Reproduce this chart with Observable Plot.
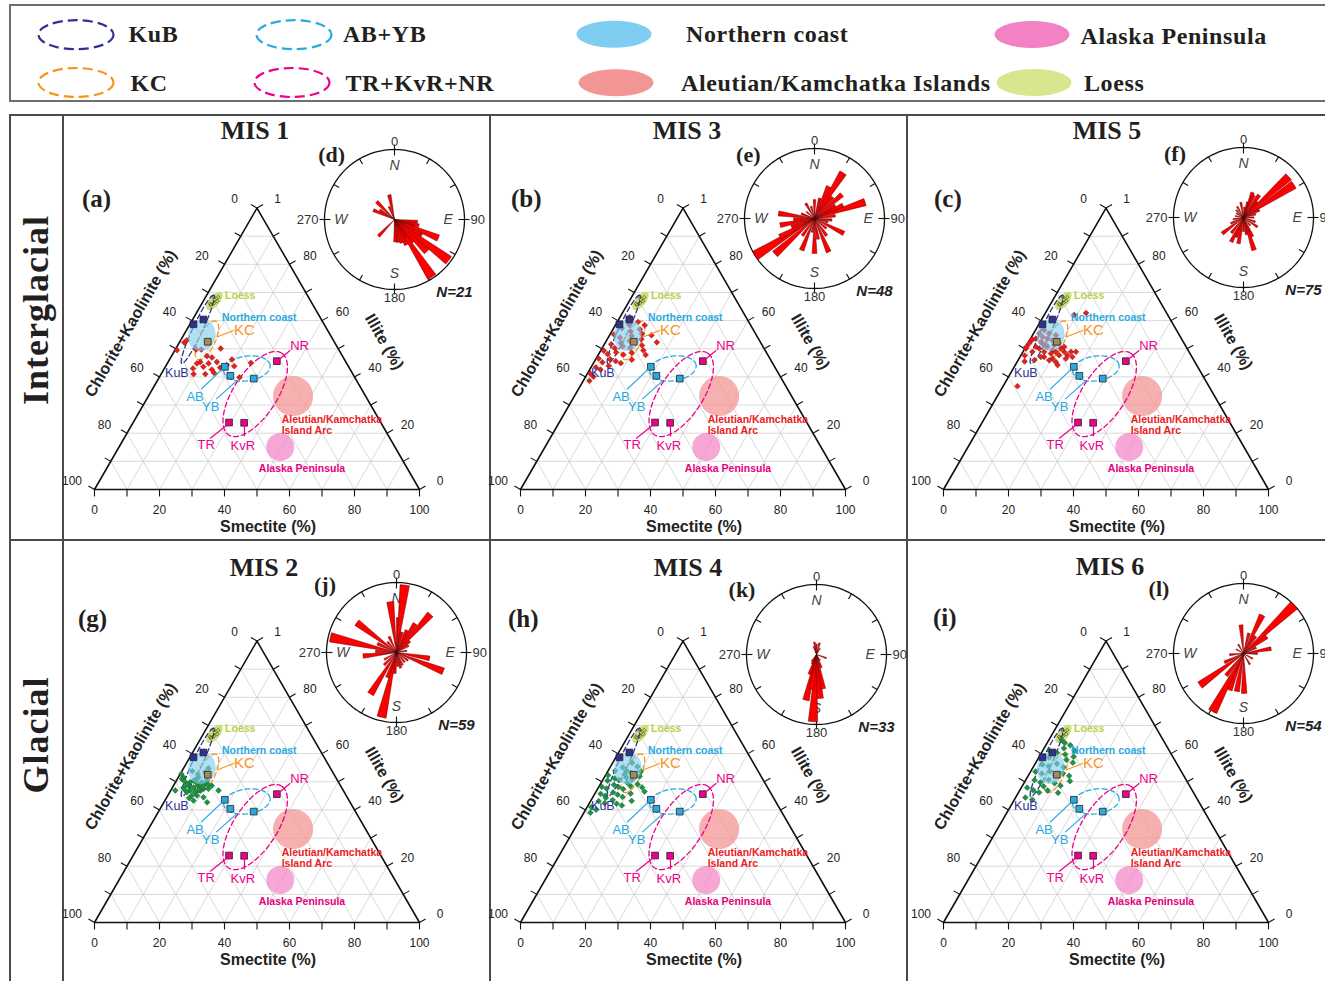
<!DOCTYPE html>
<html>
<head>
<meta charset="utf-8">
<title>Clay mineral ternary diagrams and rose diagrams, MIS 1–6</title>
<script src="https://cdn.jsdelivr.net/npm/d3@7"></script>
<script src="https://cdn.jsdelivr.net/npm/@observablehq/plot@0.6"></script>
<style>
  html, body { margin: 0; padding: 0; background: #fff; }
  body { position: relative; width: 1325px; height: 981px; overflow: hidden; font-family: "Liberation Sans", Arial, sans-serif; }
  .abs { position: absolute; }
  .rule { position: absolute; background: #4a4a4a; }
  .serif { font-family: "Liberation Serif", "Times New Roman", serif; font-weight: bold; color: #231f20; white-space: nowrap; }
  .title { font-size: 26px; line-height: 30px; width: 200px; text-align: center; }
  .letter { font-size: 25px; line-height: 26px; }
  .rlet { font-size: 22px; line-height: 24px; transform: translate(-50%, -50%); }
  .rowlab { font-size: 36px; letter-spacing: 1px; transform: translate(-50%, -50%) rotate(-90deg); }
</style>
</head>
<body>
<script>
// ---------------- data ----------------
// Clay assemblages of the core samples: [smectite %, illite %];
// chlorite + kaolinite makes up the rest of each 100 %.
const mis1 = [[0.6,49.5],[1.5,52.2],[1.9,53.0],[6.4,49.7],[8.0,49.7],[13.8,50.1],[10.9,47.4],[12.7,46.9],
  [9.9,45.3],[9.1,44.8],[8.8,43.0],[11.7,43.6],[12.7,44.8],[15.0,45.3],[14.8,42.6],[13.6,41.0],[16.1,41.4],
  [10.0,41.0],[17.0,43.3],[18.6,44.2],[19.2,46.2],[21.1,43.8],[24.7,39.8],[25.6,45.0]];
const mis3 = [[1.2,55.1],[2.5,57.3],[4.1,58.6],[5.8,56.2],[3.6,54.0],[6.9,54.6],[8.3,56.9],[9.7,55.3],
  [4.8,52.1],[7.2,52.8],[10.5,53.4],[2.1,51.6],[3.9,50.2],[6.0,50.9],[8.6,50.3],[11.8,51.2],[1.0,49.3],
  [2.8,48.1],[5.1,48.7],[7.7,47.9],[9.9,48.6],[13.1,49.4],[0.8,46.5],[2.6,45.2],[4.4,46.3],[6.5,45.6],
  [8.4,44.9],[1.5,43.4],[3.3,42.6],[5.2,43.9],[0.9,41.2],[2.4,40.1],[11.2,46.1],[14.6,47.8],[12.9,54.8],
  [6.4,59.5],[3.0,61.2],[9.0,58.4],[15.8,52.3],[1.9,38.6]];
const mis5 = [[0.5,53.0],[0.3,50.1],[4.4,36.7],[12.5,62.7],[9.2,62.0],[16.3,48.9],[16.1,47.1],[11.9,45.3],
  [6.5,48.9],[8.8,49.5],[12.7,48.9],[4.5,51.9],[0.4,51.9],[0.7,53.3],[0.2,50.7],[1.6,53.6],[3.8,52.4],
  [4.4,50.1],[6.6,50.7],[10.1,48.9],[11.7,47.7],[11.1,50.1],[14.3,47.7],[14.8,48.9],[10.3,46.5],[9.6,45.9],
  [7.4,47.1],[8.4,51.3],[9.6,51.9],[3.1,50.7],[2.9,48.9],[6.4,47.1],[14.4,46.5],[13.0,44.2],[3.4,54.2],
  [5.2,53.6],[7.0,53.0],[1.8,55.4],[2.7,56.6],[4.8,55.4],[7.2,54.8],[5.9,51.3],[8.9,48.3],[11.8,50.7],
  [1.2,47.6],[5.0,46.0],[2.2,45.5]];
const mis2 = [[7.7,54.8],[7.4,53.4],[1.6,51.6],[4.5,49.8],[5.3,50.4],[6.0,51.0],[8.1,49.8],[9.5,49.2],
  [9.4,50.4],[7.7,48.6],[6.5,48.0],[4.6,48.6],[6.0,46.9],[7.8,46.3],[9.1,46.9],[9.8,47.5],[1.4,46.9],
  [1.4,51.0],[3.8,49.2],[9.0,45.1],[7.4,45.1],[11.3,44.5],[13.3,42.7],[14.7,46.9],[11.8,48.6],[0.3,52.8],
  [5.3,46.3],[3.4,48.0],[6.2,51.6],[9.05,48.0],[11.3,47.5],[8.8,43.3],[5.5,52.6],[3.2,53.8],[6.8,49.5],
  [8.4,47.2],[10.4,49.0],[4.0,47.3],[2.6,50.2],[7.0,44.2]];
const mis4 = [[0.8,52.3],[2.2,53.9],[3.9,55.1],[5.6,54.0],[7.3,53.2],[1.6,50.4],[3.4,51.2],[5.0,50.6],
  [6.8,51.5],[8.9,50.8],[10.7,51.9],[0.9,48.2],[2.7,47.6],[4.3,48.9],[6.1,48.1],[7.9,47.4],[9.6,48.5],
  [11.5,49.1],[13.4,48.0],[1.8,45.7],[3.6,45.0],[5.4,46.2],[7.2,45.4],[9.1,44.6],[11.0,45.8],[2.5,43.1],
  [4.7,42.4],[6.6,43.5],[8.5,42.2],[1.3,41.0],[3.2,40.1],[14.9,46.5],[12.6,43.2],[6.0,56.7],[8.3,55.4],
  [10.2,53.7],[4.1,44.3],[8.0,49.7],[5.8,52.6],[2.0,39.0],[10.4,41.6]];
const mis6 = [[3.2,58.6],[4.8,60.3],[6.1,61.9],[5.4,63.8],[7.6,59.7],[8.9,57.8],[2.4,56.1],[4.6,55.5],
  [6.7,56.4],[9.3,55.2],[11.4,56.8],[1.5,53.6],[3.8,52.9],[5.9,53.7],[8.1,52.4],[10.2,53.0],[12.6,52.1],
  [2.7,50.6],[4.9,49.8],[7.0,50.7],[9.4,49.5],[11.7,48.6],[1.8,47.9],[4.1,47.0],[6.3,46.2],[8.6,46.9],
  [3.0,44.4],[5.5,43.6],[13.8,50.2],[10.6,58.9],[7.5,63.0],[4.0,64.8],[9.8,61.1],[2.1,61.0],[6.6,48.4],
  [12.2,46.1]];

// Source-area fields: centre [smectite %, illite %], semi-axes (% of side) and tilt (degrees)
const sourceFields = [
  {key: "Loess",          s: 3.4,  i: 67.0, a: 3.4,  b: 1.6,  tilt: 50},
  {key: "Northern coast", s: 5.6,  i: 54.8, a: 4.9,  b: 4.2,  tilt: 75},
  {key: "KC",             s: 8.1,  i: 53.0, a: 6.5,  b: 2.5,  tilt: 64},
  {key: "KuB",            s: 3.3,  i: 56.9, a: 11.6, b: 1.5,  tilt: 65},
  {key: "AB+YB",          s: 25.4, i: 43.0, a: 7.2,  b: 3.8,  tilt: 8},
  {key: "TR+KvR+NR",      s: 32.5, i: 33.9, a: 15.0, b: 6.7,  tilt: 57},
  {key: "Aleutian",       s: 44.5, i: 33.2, a: 6.15, b: 6.15, tilt: 0},
  {key: "Alaska",         s: 49.6, i: 15.1, a: 4.3,  b: 4.3,  tilt: 0}
];
// River reference samples: [smectite %, illite %]
const kubSamples = [[1.1, 58.7], [3.3, 60.4]];
const kcSamples = [[8.6, 52.5]];
const abybSamples = [[18.3, 43.6], [21.6, 40.4], [29.3, 39.4]];
const trkvrnrSamples = [[33.3, 45.6], [29.5, 23.8], [34.2, 23.7]];
const loessSamples = [[2.6, 66.0], [3.3, 67.4], [3.9, 68.3], [4.3, 66.9], [3.0, 65.6], [2.5, 68.4], [3.6, 66.2]];

// Rose diagrams: petal azimuth (degrees from north) and length (share of the outer ring)
const roseMis1 = [[96,0.33],[104,0.36],[110,0.3],[113,0.68],[121,0.45],[127,0.97],[135,0.65],[142,0.42],
  [147,0.98],[150,0.3],[155,0.40],[163,0.35],[171,0.33],[178,0.32],[224,0.33],[294,0.33],[303,0.25],
  [315,0.36],[337,0.2],[348,0.36]];
const roseMis3 = [[0,0.27],[15,0.3],[24,0.5],[32,0.77],[40,0.4],[49,0.52],[58,0.35],[65,0.45],[72,0.76],
  [82,0.3],[95,0.25],[105,0.2],[117,0.47],[130,0.22],[145,0.3],[157,0.52],[170,0.3],[180,0.5],[190,0.2],
  [202,0.49],[215,0.3],[228,0.76],[238,1.0],[242,0.56],[250,0.35],[259,0.5],[268,0.3],[278,0.52],[290,0.2],
  [310,0.15],[330,0.25],[345,0.18]];
const roseMis5 = [[5,0.15],[15,0.23],[20,0.38],[25,0.35],[35,0.39],[42,0.3],[48,0.87],[57,0.86],[65,0.25],
  [75,0.18],[90,0.15],[110,0.18],[124,0.24],[140,0.15],[155,0.3],[162,0.49],[170,0.25],[180,0.2],[191,0.38],
  [200,0.3],[207,0.39],[218,0.28],[233,0.38],[245,0.2],[260,0.15],[280,0.12],[300,0.12],[315,0.15],
  [330,0.18],[350,0.22]];
const roseMis2 = [[4,0.5],[7,0.97],[15,0.3],[25,0.35],[33,0.49],[41.6,0.73],[50,0.25],[60,0.2],[80,0.15],
  [100,0.48],[112,0.72],[125,0.2],[140,0.18],[155,0.2],[165,0.23],[175,0.2],[185,0.3],[193,0.95],[200,0.38],
  [212,0.7],[225,0.25],[240,0.2],[264,0.48],[273,0.3],[283,0.97],[295,0.3],[307,0.71],[320,0.2],[335,0.25],
  [353,0.73]];
const roseMis4 = [[183,0.96],[175,0.63],[169,0.5],[193,0.67],[188,0.5],[200,0.3],[160,0.2],[350,0.18],
  [15,0.17],[110,0.15],[0,0.15],[340,0.12],[30,0.1],[206,0.15],[215,0.12],[150,0.1]];
const roseMis6 = [[46.4,1.0],[26,0.61],[54.5,0.41],[80,0.4],[355,0.41],[15,0.3],[35,0.3],[65,0.2],[90,0.2],
  [120,0.15],[150,0.18],[179,0.57],[190,0.55],[201,0.56],[208,0.94],[218,0.4],[234,0.77],[245,0.3],
  [265,0.2],[300,0.12],[330,0.15]];

// Tick labels
const tickValues = [0, 20, 40, 60, 80, 100];
const smectiteTickLabels = ["0", "20", "40", "60", "80", "100"];
const chloriteTickLabels = ["0", "20", "40", "60", "80", "100"];
const illiteTickLabels = ["0", "20", "40", "60", "80", "1"];
const compassDegrees = ["0", "90", "180", "270"];
const compassLetters = ["N", "E", "S", "W"];

// ---------------- styling ----------------
const PAL = {
  kub: "#2e3192", kc: "#f7941d", ab: "#27aae1", tr: "#ec008c",
  north: "#7fcdf1", aleutian: "#f29594", alaska: "#f282c4", loess: "#d8e68e",
  red: "#e2231a", redEdge: "#931010", green: "#1f9345", greenEdge: "#0b5a26"
};
const SANS = "Liberation Sans, Arial, sans-serif";
const SIDE = 325;                 // triangle side, px
const H3 = Math.sqrt(3) / 2;
const cart = (s, i) => [s / 100 + i / 200, (i / 100) * H3];   // ternary -> plane (side = 1)
const px = v => v / SIDE;          // pixel length -> plane units

function ring(f, n = 90) {
  const [cx, cy] = cart(f.s, f.i);
  const t = f.tilt * Math.PI / 180, a = f.a / 100, b = f.b / 100;
  return d3.range(n + 1).map(k => {
    const p = 2 * Math.PI * k / n, u = a * Math.cos(p), v = b * Math.sin(p);
    return {x: cx + u * Math.cos(t) - v * Math.sin(t), y: cy + u * Math.sin(t) + v * Math.cos(t)};
  });
}
const field = Object.fromEntries(sourceFields.map(f => [f.key, ring(f)]));

// Annotations of the source areas (anchored in ternary coordinates)
const sourceLabels = [
  {text: "Loess", s: 10.4, i: 68.9, color: "#b7d140", size: 10.5, weight: "bold"},
  {text: "Northern coast", s: 20.2, i: 61.0, color: PAL.ab, size: 10.5, weight: "bold"},
  {text: "KC", s: 17.8, i: 56.6, color: PAL.kc, size: 15, weight: "normal"},
  {text: "KuB", s: 4.65, i: 41.4, color: PAL.kub, size: 12.5, weight: "normal"},
  {text: "AB", s: 14.4, i: 33.1, color: PAL.ab, size: 13, weight: "normal"},
  {text: "YB", s: 21.1, i: 29.3, color: PAL.ab, size: 13, weight: "normal"},
  {text: "NR", s: 37.6, i: 51.0, color: PAL.tr, size: 13, weight: "normal"},
  {text: "TR", s: 26.5, i: 15.7, color: PAL.tr, size: 13, weight: "normal"},
  {text: "KvR", s: 37.9, i: 15.5, color: PAL.tr, size: 13, weight: "normal"},
  {text: "Alaska Peninsula", s: 60.2, i: 7.3, color: "#e5007d", size: 10.5, weight: "bold"}
];
const leaders = [
  {from: [10.6, 54.2], to: [14.7, 56.6], color: PAL.kc},
  {from: [15.0, 35.6], to: [17.9, 42.7], color: PAL.ab},
  {from: [21.4, 32.1], to: [24.4, 38.5], color: PAL.ab},
  {from: [33.6, 45.9], to: [35.5, 49.5], color: PAL.tr},
  {from: [26.5, 18.1], to: [29.3, 22.8], color: PAL.tr},
  {from: [36.7, 18.9], to: [34.9, 22.5], color: PAL.tr}
];

const X = d => cart(d[0], d[1])[0];
const Y = d => cart(d[0], d[1])[1];

function ternary(samples, fill, edge) {
  const W = 400, H = 362, ox = 34, oy = 312;   // lower-left corner of the triangle inside the svg
  const grid = [];
  for (let v = 10; v < 100; v += 10) {
    grid.push([cart(v, 0), cart(v, 100 - v)]);
    grid.push([cart(0, v), cart(100 - v, v)]);
    grid.push([cart(100 - v, 0), cart(0, 100 - v)]);
  }
  const T = px(7), ticks = [];
  for (let v = 0; v <= 100; v += 10) {
    const [bx, by] = cart(v, 0); ticks.push([bx, by, bx, by - T]);
    const [lx, ly] = cart(0, 100 - v); ticks.push([lx, ly, lx - H3 * T, ly + T / 2]);
    const [rx, ry] = cart(100 - v, v); ticks.push([rx, ry, rx + H3 * T, ry + T / 2]);
  }
  const frame = [cart(0, 0), cart(100, 0), cart(0, 100), cart(0, 0)].map(([x, y]) => ({x, y}));
  const shape = (key, o) => Plot.line(field[key], {x: "x", y: "y", ...o});
  const squares = (data, color) => Plot.dot(data, {x: X, y: Y, symbol: "square", r: 3.8, fill: color, stroke: "#222", strokeWidth: 0.8});
  const axisText = {fontFamily: SANS, fontSize: 12, fill: "#222"};

  const plot = Plot.plot({
    width: W, height: H, margin: 0,
    x: {domain: [px(-ox), px(W - ox)], range: [0, W], axis: null},
    y: {domain: [px(oy - H), px(oy)], range: [H, 0], axis: null},
    style: {background: "none", overflow: "visible", fontFamily: SANS},
    marks: [
      Plot.link(grid, {x1: d => d[0][0], y1: d => d[0][1], x2: d => d[1][0], y2: d => d[1][1], stroke: "#cfcfcf", strokeWidth: 0.8}),
      Plot.link(ticks, {x1: d => d[0], y1: d => d[1], x2: d => d[2], y2: d => d[3], stroke: "#111", strokeWidth: 1.1}),
      Plot.line(frame, {x: "x", y: "y", stroke: "#111", strokeWidth: 1.6}),
      Plot.text(tickValues, {x: v => cart(v, 0)[0], y: v => cart(v, 0)[1], text: (v, k) => smectiteTickLabels[k], dy: 20.7, ...axisText}),
      Plot.text(tickValues, {x: v => cart(0, 100 - v)[0], y: v => cart(0, 100 - v)[1], text: (v, k) => chloriteTickLabels[k], dx: -22.5, dy: -8.4, ...axisText}),
      Plot.text(tickValues, {x: v => cart(100 - v, v)[0], y: v => cart(100 - v, v)[1], text: (v, k) => illiteTickLabels[k], dx: 20.5, dy: -8.5, ...axisText}),
      Plot.text(["Smectite (%)"], {x: cart(50, 0)[0], y: cart(50, 0)[1], dx: 11, dy: 37.4, fontSize: 16, fontWeight: "bold", fill: "#222"}),
      Plot.text(["Chlorite+Kaolinite (%)"], {x: cart(0, 50)[0], y: cart(0, 50)[1], dx: -44.9, dy: -25.3, rotate: -60, fontSize: 16, fontWeight: "bold", fill: "#222"}),
      Plot.text(["Illite (%)"], {x: cart(50, 50)[0], y: cart(50, 50)[1], dx: 46, dy: -6.9, rotate: 60, fontSize: 16, fontWeight: "bold", fill: "#222"}),
      // filled source areas
      shape("Aleutian", {fill: PAL.aleutian, fillOpacity: 0.75, stroke: "none"}),
      shape("Alaska", {fill: PAL.alaska, fillOpacity: 0.7, stroke: "none"}),
      shape("Loess", {fill: "#c3da5c", fillOpacity: 0.85, stroke: "none"}),
      Plot.dot(loessSamples, {x: X, y: Y, symbol: "diamond2", r: 1.7, fill: "none", stroke: "#3f4d0c", strokeWidth: 0.7}),
      // river provinces
      shape("KuB", {stroke: PAL.kub, strokeWidth: 1.3, strokeDasharray: "5,3", fill: "none"}),
      shape("KC", {stroke: PAL.kc, strokeWidth: 1.3, strokeDasharray: "5,3", fill: "none"}),
      shape("AB+YB", {stroke: PAL.ab, strokeWidth: 1.3, strokeDasharray: "5,3", fill: "none"}),
      shape("TR+KvR+NR", {stroke: PAL.tr, strokeWidth: 1.3, strokeDasharray: "5,3", fill: "none"}),
      // core samples
      Plot.dot(samples, {x: X, y: Y, symbol: "diamond2", r: 2.6, fill, stroke: edge, strokeWidth: 0.5}),
      shape("Northern coast", {fill: PAL.north, fillOpacity: 0.62, stroke: "none"}),
      squares(kubSamples, PAL.kub),
      squares(kcSamples, "#a58a58"),
      squares(abybSamples, PAL.ab),
      squares(trkvrnrSamples, PAL.tr),
      ...leaders.map(l => Plot.link([l], {x1: d => cart(...d.from)[0], y1: d => cart(...d.from)[1], x2: d => cart(...d.to)[0], y2: d => cart(...d.to)[1], stroke: l.color, strokeWidth: 1.2})),
      ...sourceLabels.map(l => Plot.text([l], {x: d => cart(d.s, d.i)[0], y: d => cart(d.s, d.i)[1], text: "text", fill: l.color, fontSize: l.size, fontWeight: l.weight})),
      Plot.text(["Aleutian/Kamchatka\nIsland Arc"], {x: cart(46.2, 22.8)[0], y: cart(46.2, 22.8)[1], textAnchor: "start", lineHeight: 1.05, fill: "#ed1c24", fontSize: 10.5, fontWeight: "bold"})
    ]
  });
  plot.style.position = "absolute";
  return {node: plot, ox, oy};
}

function rose(bins, n) {
  const R = 70, W = 240, H = 200, width = 8;
  const rad = a => a * Math.PI / 180;
  const petals = [];
  bins.forEach(([az, len], k) => {
    petals.push({k, x: 0, y: 0});
    for (let j = 0; j <= 8; j++) {
      const t = rad(az - width / 2 + width * j / 8);
      petals.push({k, x: len * Math.sin(t), y: len * Math.cos(t)});
    }
    petals.push({k, x: 0, y: 0});
  });
  const circle = d3.range(181).map(k => ({x: Math.sin(rad(2 * k)), y: Math.cos(rad(2 * k))}));
  const ticks = d3.range(0, 360, 30).map(az => {
    const major = az % 90 === 0, r0 = 1 - 6 / R, r1 = major ? 1 + 5 / R : 1, t = rad(az);
    return [r0 * Math.sin(t), r0 * Math.cos(t), r1 * Math.sin(t), r1 * Math.cos(t)];
  });
  const cardinal = [0, 90, 180, 270];
  const deg = {fontFamily: SANS, fontSize: 13, fill: "#333"};
  const plot = Plot.plot({
    width: W, height: H, margin: 0,
    x: {domain: [-W / 2 / R, W / 2 / R], range: [0, W], axis: null},
    y: {domain: [-H / 2 / R, H / 2 / R], range: [H, 0], axis: null},
    style: {background: "none", overflow: "visible", fontFamily: SANS},
    marks: [
      Plot.line(circle, {x: "x", y: "y", stroke: "#111", strokeWidth: 1.3}),
      Plot.link(ticks, {x1: d => d[0], y1: d => d[1], x2: d => d[2], y2: d => d[3], stroke: "#111", strokeWidth: 1.1}),
      Plot.text(cardinal, {x: a => 0.765 * Math.sin(rad(a)), y: a => 0.765 * Math.cos(rad(a)), text: (a, k) => compassLetters[k], fontStyle: "italic", fontSize: 14, fill: "#444"}),
      Plot.line(petals, {x: "x", y: "y", z: "k", fill: "#ff0000", stroke: "#4d0000", strokeWidth: 0.45}),
      Plot.text([compassDegrees[0]], {x: 0, y: 1, dy: -8, ...deg}),
      Plot.text([compassDegrees[1]], {x: 1, y: 0, dx: 6, textAnchor: "start", ...deg}),
      Plot.text([compassDegrees[2]], {x: 0, y: -1, dy: 8, ...deg}),
      Plot.text([compassDegrees[3]], {x: -1, y: 0, dx: -6, textAnchor: "end", ...deg}),
      Plot.text([`N=${n}`], {x: 0, y: 0, dx: 60, dy: 73, fontSize: 15, fontWeight: "bold", fontStyle: "italic", fill: "#222"})
    ]
  });
  plot.style.position = "absolute";
  return {node: plot, cx: W / 2, cy: H / 2};
}

// ---------------- page layout ----------------
const panels = [
  {title: "MIS 1", letter: "(a)", roseLetter: "(d)", data: mis1, bins: roseMis1, n: 21, glacial: false,
   L: [94.3, 489.3], rc: [394.3, 219.3], lp: [82, 186], rl: [331.7, 155], t: [255, 131]},
  {title: "MIS 3", letter: "(b)", roseLetter: "(e)", data: mis3, bins: roseMis3, n: 48, glacial: false,
   L: [520.3, 489.3], rc: [814.3, 218.3], lp: [511, 186], rl: [748.3, 155], t: [687, 131]},
  {title: "MIS 5", letter: "(c)", roseLetter: "(f)", data: mis5, bins: roseMis5, n: 75, glacial: false,
   L: [943, 489.3], rc: [1242.7, 217.3], lp: [934, 186], rl: [1175, 154], t: [1107, 131]},
  {title: "MIS 2", letter: "(g)", roseLetter: "(j)", data: mis2, bins: roseMis2, n: 59, glacial: true,
   L: [94.3, 921.9], rc: [396, 652.3], lp: [78, 606], rl: [325, 585], t: [264, 568]},
  {title: "MIS 4", letter: "(h)", roseLetter: "(k)", data: mis4, bins: roseMis4, n: 33, glacial: true,
   L: [520.3, 921.9], rc: [816, 654.3], lp: [508, 606], rl: [742, 590], t: [688, 568]},
  {title: "MIS 6", letter: "(i)", roseLetter: "(l)", data: mis6, bins: roseMis6, n: 54, glacial: true,
   L: [943, 921.9], rc: [1242.7, 653.3], lp: [933, 605], rl: [1159, 589], t: [1110, 567]}
];

function div(cls, text, left, top) {
  const e = document.createElement("div");
  e.className = "abs " + cls;
  e.textContent = text;
  e.style.left = left + "px";
  e.style.top = top + "px";
  document.body.append(e);
  return e;
}
function rule(left, top, w, h) {
  const e = document.createElement("div");
  e.className = "rule";
  Object.assign(e.style, {left: left + "px", top: top + "px", width: w + "px", height: h + "px"});
  document.body.append(e);
}

// Legend
const legendSlots = [
  {label: "KuB", color: PAL.kub, dashed: true, e: [76, 34.7], tx: [128.6, 41.7]},
  {label: "KC", color: PAL.kc, dashed: true, e: [76, 82.5], tx: [130.4, 90.7]},
  {label: "AB+YB", color: PAL.ab, dashed: true, e: [294, 34.7], tx: [342.9, 41.7]},
  {label: "TR+KvR+NR", color: PAL.tr, dashed: true, e: [292, 82.5], tx: [345.4, 90.7]},
  {label: "Northern coast", color: PAL.north, dashed: false, e: [614, 34.2], tx: [686, 42.3]},
  {label: "Aleutian/Kamchatka Islands", color: PAL.aleutian, dashed: false, e: [616, 82.7], tx: [681, 90.7]},
  {label: "Alaska Peninsula", color: PAL.alaska, dashed: false, e: [1032, 34.5], tx: [1080.5, 44.3]},
  {label: "Loess", color: PAL.loess, dashed: false, e: [1034, 82.5], tx: [1084, 90.7]}
];
const legend = d3.create("svg").attr("width", 1325).attr("height", 108)
  .style("position", "absolute").style("left", "0px").style("top", "0px");
legend.append("rect").attr("x", 10).attr("y", 5).attr("width", 1340).attr("height", 96)
  .attr("fill", "none").attr("stroke", "#6e6e6e").attr("stroke-width", 2);
for (const s of legendSlots) {
  legend.append("ellipse").attr("cx", s.e[0]).attr("cy", s.e[1])
    .attr("rx", 37.5).attr("ry", s.dashed ? 14.5 : 13.5)
    .attr("fill", s.dashed ? "none" : s.color)
    .attr("stroke", s.dashed ? s.color : "none").attr("stroke-width", 2.2)
    .attr("stroke-dasharray", s.dashed ? "10,5" : null);
  legend.append("text").attr("x", s.tx[0]).attr("y", s.tx[1]).text(s.label)
    .attr("font-family", "Liberation Serif, Times New Roman, serif").attr("font-weight", "bold")
    .attr("font-size", 24).attr("letter-spacing", 0.6).attr("fill", "#231f20");
}
document.body.append(legend.node());

// Frame of the panel grid
rule(9, 114, 1330, 2);
rule(9, 114, 2, 870);
rule(62, 114, 2, 870);
rule(489, 114, 2, 870);
rule(906, 114, 2, 870);
rule(9, 539, 1330, 2);

div("serif rowlab", "Interglacial", 36, 310);
div("serif rowlab", "Glacial", 36, 735);

for (const p of panels) {
  const t = ternary(p.data, p.glacial ? PAL.green : PAL.red, p.glacial ? PAL.greenEdge : PAL.redEdge);
  t.node.style.left = (p.L[0] - t.ox) + "px";
  t.node.style.top = (p.L[1] - t.oy) + "px";
  document.body.append(t.node);

  const r = rose(p.bins, p.n);
  r.node.style.left = (p.rc[0] - r.cx) + "px";
  r.node.style.top = (p.rc[1] - r.cy) + "px";
  document.body.append(r.node);

  div("serif title", p.title, p.t[0] - 100, p.t[1] - 15);
  div("serif letter", p.letter, p.lp[0], p.lp[1]);
  div("serif rlet", p.roseLetter, p.rl[0], p.rl[1]);
}
</script>
</body>
</html>
